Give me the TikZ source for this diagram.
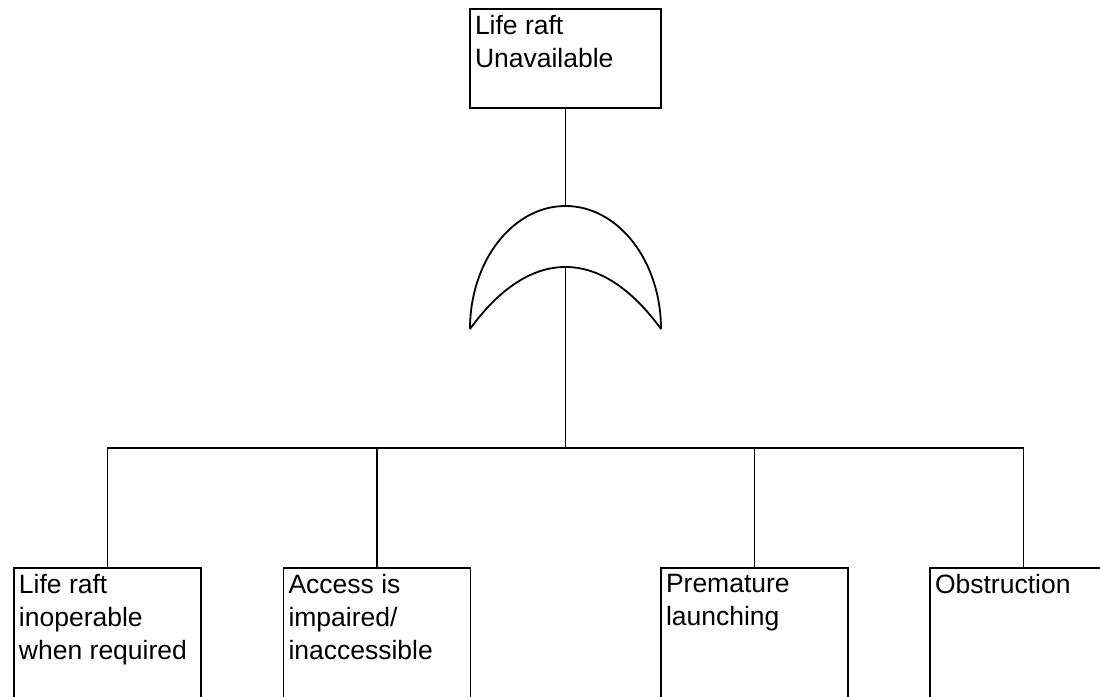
\documentclass[tikz,border=0pt]{standalone}
\usepackage{fontspec}
\setmainfont{Liberation Sans}
\newcommand{\evfont}{\fontsize{26.5}{33}\selectfont}
\tikzset{
  event/.style={draw, line width=1.8pt, minimum width=187pt, minimum height=#1, inner sep=0pt, anchor=north},
  evtext/.style={anchor=north west, align=left, inner xsep=5pt, inner ysep=6.5pt, font=\evfont}
}
\begin{document}
\begin{tikzpicture}[x=1pt, y=-1pt, line width=1.8pt]
        \useasboundingbox (0, 0) rectangle (1100, 696);
        \clip (0, 0) rectangle (1100, 696);

        % Top event
        \node[event=99pt, minimum width=191pt] (raft) at (565.5, 8) {};
        \node[evtext] (rafttxt) at (raft.north west) {Life raft\\Unavailable};

        % OR gate
        \coordinate (gtop) at (565.5, 206);
        \coordinate (gin) at (565.5, 267);
        \coordinate (bar) at (565.5, 448);
        \draw (470, 329) arc[start angle=180, end angle=360, x radius=95.5, y radius=123];
        \draw (470, 329) .. controls (530, 246.3) and (601, 246.3) .. (661, 329);

        % Basic events
        \node[event=160pt] (inop) at (107.5, 567) {};
        \node[evtext] (inoptxt) at (inop.north west) {Life raft\\inoperable\\when required};
        \node[event=160pt] (access) at (377, 567) {};
        \node[evtext] (accesstxt) at (access.north west) {Access is\\impaired/\\inaccessible};
        \node[event=160pt] (launch) at (754.5, 567) {};
        \node[evtext] (launchtxt) at (launch.north west) {Premature\\launching};
        \node[event=160pt] (obstr) at (1023.5, 567) {};
        \node[evtext] (obstrtxt) at (obstr.north west) {Obstruction};

        % Connectors
        \draw (raft.south) -- (gtop);
        \draw (gin) -- (bar);
        \draw (inop.north) |- (bar) -| (obstr.north);
        \draw (access.north) -- (access.north |- bar);
        \draw (launch.north) -- (launch.north |- bar);
    \end{tikzpicture}
\end{document}
